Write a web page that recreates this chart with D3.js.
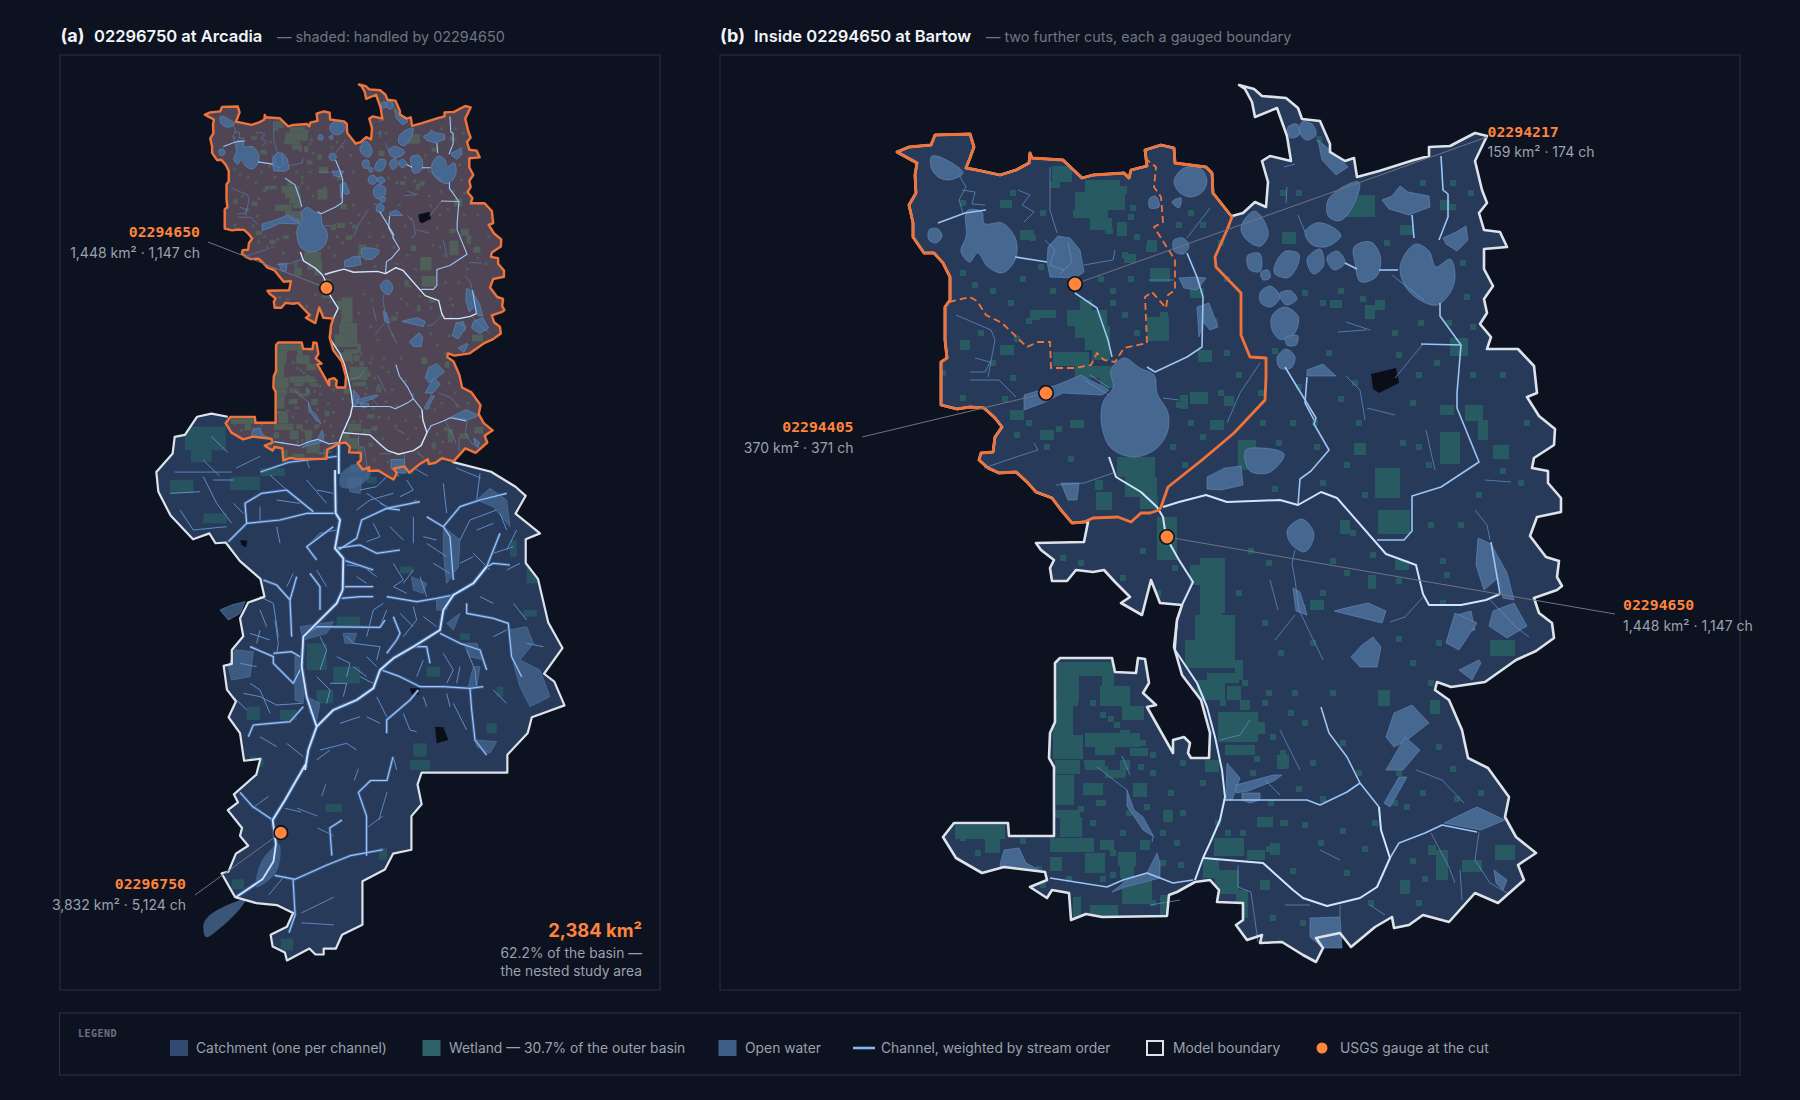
<!DOCTYPE html>
<html>
<head>
<meta charset="utf-8">
<script src="https://cdn.jsdelivr.net/npm/d3@7"></script>
<style>
  html, body { margin: 0; background: #0d1220; }
  svg { display: block; }
  text { font-family: Inter, "Noto Sans", sans-serif; }
  .mono { font-family: "DejaVu Sans Mono", monospace; font-weight: 700; }
</style>
</head>
<body>
<svg id="chart" width="1800" height="1100"></svg>
<script>
// Everything below is read off the picture. Upper basin arrays are in the
// "fine" map grid, lower basin arrays in the "coarse" and "net" grids.

// west side of the upper basin, shared by the outer boundary and the first cut
const upperWest = [[1084,522],[1072,523],[1061,510],[1052,498],[1036,492],[1027,482],[1016,472],[999,473],[988,468],[979,460],[981,453],[993,452],[995,437],[1002,427],[995,418],[984,408],[970,407],[957,409],[949,407],[941,405],[941,362],[947,358],[945,340],[945,307],[950,300],[950,277],[943,263],[934,253],[924,253],[913,237],[913,223],[909,205],[916,193],[915,175],[917,163],[906,157],[897,152],[909,147],[931,145],[935,135],[970,134],[974,147],[970,158],[966,168],[977,170],[1000,175],[1016,170],[1029,163],[1030,153],[1032,158],[1063,160],[1082,178],[1093,175],[1124,173],[1129,178],[1131,170],[1147,166],[1145,150],[1161,145],[1174,148],[1175,163],[1206,167],[1212,173],[1213,193],[1232,217]];
const upperEast = [[1232,216],[1243,213],[1255,202],[1266,207],[1268,182],[1262,161],[1270,156],[1291,161],[1287,136],[1277,108],[1255,117],[1252,102],[1245,89],[1239,85],[1254,89],[1262,96],[1286,98],[1298,108],[1302,119],[1320,121],[1330,144],[1330,152],[1345,161],[1354,158],[1357,177],[1379,171],[1414,160],[1429,156],[1429,147],[1450,146],[1475,133],[1487,136],[1475,161],[1482,190],[1487,203],[1479,213],[1484,230],[1500,232],[1507,247],[1484,249],[1484,269],[1493,286],[1484,299],[1487,313],[1480,324],[1491,337],[1487,349],[1518,349],[1534,366],[1537,393],[1527,397],[1539,416],[1555,429],[1554,445],[1534,458],[1532,468],[1548,471],[1548,483],[1561,498],[1561,512],[1537,517],[1530,536],[1546,557],[1559,561],[1557,577],[1562,586],[1557,590],[1534,598],[1539,613],[1552,623],[1554,638],[1536,651],[1516,660],[1485,682],[1451,687],[1437,682],[1435,690],[1449,700],[1462,730],[1468,758],[1488,768],[1509,797],[1505,817],[1516,837],[1536,853],[1518,865],[1524,880],[1498,903],[1475,893],[1449,922],[1423,915],[1409,925],[1394,928],[1392,917],[1375,927],[1351,947],[1340,933],[1316,938],[1323,948],[1316,962],[1303,955],[1282,942],[1260,943],[1262,935],[1247,940],[1236,925],[1243,920],[1243,903],[1217,902],[1219,890],[1210,880],[1195,882],[1177,892],[1169,895],[1167,916],[1102,917],[1086,914],[1071,920],[1069,893],[1052,890],[1047,898],[1030,887],[1047,880],[1045,872],[1004,867],[982,873],[956,858],[943,837],[954,823],[1008,823],[1009,836],[1054,836],[1054,767],[1049,758],[1050,733],[1055,722],[1055,663],[1060,658],[1112,658],[1115,672],[1136,673],[1138,658],[1145,659],[1149,683],[1143,693],[1156,705],[1147,707],[1173,753],[1173,740],[1184,737],[1190,743],[1188,753],[1191,758],[1209,758],[1210,733],[1201,700],[1182,675],[1174,647],[1177,620],[1182,605],[1160,603],[1151,580],[1142,615],[1121,603],[1130,597],[1115,582],[1104,570],[1093,572],[1076,570],[1067,581],[1052,581],[1050,568],[1054,560],[1041,550],[1036,543],[1084,542],[1086,532],[1088,522]];
const upperCut = [[1232,217],[1227,230],[1215,257],[1216,267],[1241,293],[1241,335],[1250,357],[1266,358],[1266,377],[1265,400],[1234,433],[1202,460],[1168,487],[1161,507],[1159,510],[1150,513],[1141,513],[1131,522],[1118,517],[1093,518],[1084,522]];
const dashedCut = [[949,302],[970,297],[977,301],[986,315],[1002,323],[1027,347],[1038,342],[1050,342],[1051,368],[1074,368],[1091,365],[1097,353],[1104,360],[1115,362],[1124,348],[1147,343],[1145,297],[1152,292],[1166,308],[1168,295],[1175,290],[1175,260],[1154,227],[1163,222],[1161,197],[1154,187],[1156,167],[1147,160]];

// round lakes
const lakes = [
  [[1111,370],[1124,358],[1140,368],[1154,375],[1157,393],[1168,413],[1168,430],[1157,448],[1134,457],[1111,448],[1102,427],[1104,400],[1113,388]],
  [[968,210],[982,212],[984,223],[1002,223],[1016,240],[1015,260],[1002,273],[988,267],[977,253],[970,262],[961,252],[966,237]],
  [[931,157],[952,163],[963,173],[949,180],[938,177],[931,167]],
  [[930,229],[938,229],[942,236],[936,243],[929,240]],
  [[1174,182],[1184,168],[1200,168],[1207,180],[1204,190],[1190,197],[1179,192]],
  [[1172,202],[1181,198],[1179,208]],
  [[1174,240],[1183,238],[1189,246],[1183,254],[1175,252]],
  [[1150,198],[1155,196],[1159,207],[1150,208]],
  [[1400,267],[1418,244],[1429,251],[1436,267],[1450,259],[1455,278],[1450,293],[1437,305],[1418,299],[1405,286]],
  [[1354,247],[1371,242],[1380,255],[1375,278],[1361,282],[1355,263]],
  [[1327,203],[1341,188],[1359,182],[1355,202],[1337,221],[1329,217]],
  [[1305,232],[1316,223],[1341,236],[1325,247],[1311,244]],
  [[1241,230],[1254,211],[1268,236],[1261,246],[1245,238]],
  [[1248,255],[1259,253],[1259,272],[1250,270]],
  [[1275,274],[1286,251],[1298,253],[1287,278]],
  [[1307,259],[1320,249],[1323,267],[1314,274]],
  [[1327,257],[1337,251],[1345,263],[1334,270]],
  [[1261,272],[1268,270],[1270,278],[1263,280]],
  [[1260,293],[1270,286],[1280,297],[1270,307],[1261,303]],
  [[1280,293],[1291,291],[1297,299],[1286,305]],
  [[1272,316],[1284,307],[1298,316],[1293,335],[1279,339],[1273,332]],
  [[1285,339],[1298,336],[1296,345],[1287,345]],
  [[1277,358],[1286,349],[1295,357],[1291,368],[1280,368]],
  [[1246,450],[1262,448],[1284,454],[1268,473],[1250,471]],
  [[1287,531],[1302,519],[1314,534],[1304,552],[1293,546]],
  [[1288,127],[1297,124],[1299,135],[1291,138]],
  [[1302,122],[1312,124],[1316,135],[1306,140],[1300,133]]
];
// irregular water, not smoothed
const waterPatches = [
  [[1179,278],[1195,277],[1206,278],[1197,290],[1184,288]],
  [[1048,247],[1058,236],[1070,238],[1080,250],[1084,272],[1075,278],[1050,277],[1047,262]],
  [[1197,307],[1209,303],[1218,327],[1210,330],[1203,322],[1199,337]],
  [[1024,395],[1057,385],[1081,375],[1109,390],[1102,395],[1063,393],[1043,403],[1024,410]],
  [[1061,483],[1079,483],[1077,500],[1068,500]],
  [[1382,200],[1392,196],[1400,186],[1408,192],[1429,196],[1430,207],[1409,215],[1389,209]],
  [[1307,370],[1323,364],[1336,376],[1307,376]],
  [[1443,238],[1456,232],[1466,226],[1468,240],[1457,251],[1446,244]],
  [[1318,140],[1330,150],[1348,167],[1336,175],[1322,160]],
  [[1207,477],[1225,468],[1241,466],[1243,485],[1221,490],[1207,489]],
  [[1478,538],[1491,544],[1507,573],[1514,600],[1503,598],[1498,578],[1484,590],[1476,565]],
  [[1493,611],[1514,603],[1527,626],[1507,638],[1489,626]],
  [[1457,615],[1471,611],[1475,630],[1457,634]],
  [[1334,611],[1350,607],[1368,603],[1386,611],[1382,623],[1350,615]],
  [[1293,588],[1300,592],[1307,615],[1296,611]],
  [[1351,657],[1362,645],[1373,637],[1381,647],[1377,667],[1360,667]],
  [[1386,737],[1394,713],[1412,705],[1429,723],[1407,740],[1394,747]],
  [[1386,770],[1405,737],[1420,750],[1403,770]],
  [[1384,803],[1399,777],[1407,777],[1390,807]],
  [[1444,823],[1460,815],[1477,807],[1505,820],[1481,830]],
  [[1459,670],[1479,660],[1481,663],[1472,680]],
  [[1455,613],[1477,623],[1459,650],[1446,643]],
  [[1310,918],[1340,917],[1342,948],[1323,948],[1310,937]],
  [[1000,865],[1004,850],[1019,848],[1026,863],[1043,872],[1000,867]],
  [[1112,892],[1130,878],[1147,873],[1157,853],[1160,863],[1160,878],[1125,887]],
  [[1127,790],[1134,810],[1143,817],[1154,837],[1143,830],[1127,806]],
  [[1242,793],[1260,793],[1260,800],[1250,803],[1242,800]],
  [[1227,763],[1240,778],[1232,800],[1226,800]],
  [[1494,870],[1507,880],[1503,890],[1496,883]],
  [[1236,785],[1273,775],[1282,775],[1274,781],[1248,791],[1236,793]]
];
const darkPatches = [[[1371,374],[1396,368],[1399,383],[1379,393],[1373,389]]];

const channelsMajor = [
  [[1109,457],[1116,477],[1141,492],[1157,507],[1163,517],[1166,537],[1179,560],[1193,582],[1182,605],[1177,620],[1175,650],[1197,683],[1207,707],[1215,737],[1222,770],[1225,797],[1220,820],[1210,843],[1203,858],[1195,880]],
  [[1163,507],[1179,502],[1206,495],[1227,502],[1280,500],[1298,505],[1321,492],[1337,498],[1386,554],[1416,565],[1423,594],[1429,605],[1461,605],[1486,600],[1500,594]],
  [[1203,858],[1263,863],[1293,890],[1303,898],[1327,906],[1360,898],[1377,887],[1390,858],[1381,830],[1379,807]]
];
const channelsMid = [
  [[1377,540],[1404,540],[1412,531],[1412,496],[1441,487],[1479,462],[1457,408],[1457,393],[1461,345],[1440,316],[1440,303]],
  [[1298,505],[1300,479],[1311,471],[1329,450],[1314,424],[1316,418],[1285,367]],
  [[1075,293],[1097,308],[1108,340],[1112,357]],
  [[1147,367],[1155,372],[1187,357],[1202,347],[1203,297],[1197,277],[1187,253]],
  [[1390,858],[1399,843],[1425,833],[1442,825],[1477,832]],
  [[1379,807],[1360,783],[1347,757],[1329,733],[1321,707]],
  [[1225,800],[1247,800],[1307,800],[1320,805],[1347,792],[1360,783]],
  [[1050,878],[1107,887],[1123,880],[1147,873],[1173,883],[1193,880]],
  [[1500,594],[1491,542]],
  [[1441,156],[1443,190],[1448,194],[1448,217],[1439,240]],
  [[1015,257],[1047,262]],
  [[938,223],[965,213],[986,210]],
  [[1307,377],[1305,403],[1314,420]],
  [[1379,270],[1398,270]],
  [[1345,263],[1357,269]],
  [[1421,344],[1461,345]],
  [[1412,215],[1414,238]]
];
const channelsMinor = [
  [[1050,167],[1050,210],[1057,233]],
  [[959,175],[966,187],[959,200],[963,213]],
  [[1084,265],[1113,260],[1115,250]],
  [[1210,208],[1187,238]],
  [[956,315],[991,330],[995,340],[988,377]],
  [[970,380],[999,380],[1016,397]],
  [[1084,380],[1109,395]],
  [[1090,375],[1110,388]],
  [[984,468],[1016,457],[1038,450],[1034,443]],
  [[1056,485],[1084,483],[1113,473]],
  [[1260,363],[1240,393],[1227,423]],
  [[1149,280],[1174,280]],
  [[1163,398],[1179,400]],
  [[1097,767],[1127,790]],
  [[1153,837],[1152,842]],
  [[1238,865],[1238,887],[1251,892],[1258,942]],
  [[1340,905],[1340,917]],
  [[1431,833],[1449,867],[1455,883]],
  [[1479,832],[1475,860],[1490,883],[1507,893]],
  [[1423,597],[1405,617],[1390,622]],
  [[1490,600],[1516,627],[1529,637]],
  [[1295,550],[1292,563],[1295,580],[1299,610],[1323,660]],
  [[1416,770],[1442,780],[1464,803]],
  [[1287,187],[1286,203]],
  [[1284,167],[1295,164]],
  [[1298,215],[1305,232]],
  [[1346,322],[1370,330]],
  [[1338,332],[1366,330]],
  [[1395,378],[1423,344]],
  [[1346,376],[1360,390],[1365,420]],
  [[1367,408],[1395,415]],
  [[1424,300],[1392,275]],
  [[1426,430],[1435,470]],
  [[1485,480],[1511,482]],
  [[1475,510],[1487,525],[1490,540]],
  [[1270,580],[1278,610]],
  [[1275,640],[1295,615]],
  [[962,190],[975,192],[972,204],[985,205]],
  [[1018,190],[1030,195],[1022,205],[1034,212],[1024,222]],
  [[1045,240],[1055,250],[1050,265],[1064,270]],
  [[1068,243],[1072,262],[1060,274]],
  [[975,358],[990,362],[985,372],[970,372]],
  [[1220,740],[1240,735],[1250,720]],
  [[1265,780],[1280,795]],
  [[1130,775],[1122,756]],
  [[1180,900],[1150,905]],
  [[1285,905],[1310,905]],
  [[1370,905],[1385,915]],
  [[1460,870],[1462,900]],
  [[1320,850],[1340,860]],
  [[1280,730],[1300,770]]
];
// wetland blocks: x, y, w, h
const wetlandBlocks = [[1052,166,20,16],[1085,180,35,12],[1075,192,50,18],[1073,210,35,8],[1090,218,22,12],[1105,228,8,6],[1119,186,8,8],[1130,205,6,6],[1050,182,10,6],[1080,300,12,10],[1067,310,40,16],[1075,326,35,12],[1085,338,25,12],[1092,350,18,10],[1053,352,36,14],[1075,366,40,12],[1100,378,15,10],[1147,317,22,24],[1160,312,8,6],[1150,268,20,14],[1124,254,12,9],[1147,240,10,12],[1117,222,10,14],[1190,288,14,10],[1198,350,14,12],[1190,392,18,12],[1224,396,10,10],[1282,232,14,12],[1040,310,16,8],
  [1117,457,38,20],[1125,477,32,20],[1140,497,18,12],[1096,492,16,18],[1157,517,20,43],[1238,440,18,30],[1190,565,20,20],[1200,585,22,30],[1195,615,40,25],
  [1057,662,45,14],[1057,676,22,24],[1100,686,30,20],[1102,662,12,24],[1122,706,22,14],[1053,700,20,35],[1053,735,30,24],[1055,760,25,14],[1085,733,55,14],[1095,747,20,8],[1130,748,18,8],[1120,730,10,14],[1085,760,20,10],[1120,760,10,10],[1105,770,20,8],[1056,775,18,30],[1083,783,20,12],[1133,783,14,14],[1060,817,22,20],[1050,810,30,8],[1050,838,44,14],[1085,853,20,20],[1118,852,18,14],[1050,857,12,14],[1100,840,14,10],[1140,840,10,10],[1120,866,14,12],[1122,878,30,26],[1090,905,28,12],[1160,895,10,20],[1073,897,8,20],[1163,810,10,12],
  [1185,640,50,28],[1207,673,32,10],[1197,680,28,20],[1218,712,40,30],[1255,722,10,12],[1227,686,14,14],[1235,660,8,20],[1240,700,10,10],[1225,745,30,10],[1190,690,12,10],[1205,760,14,12],[1215,870,24,24],[1260,880,10,10],[1247,850,18,10],[1257,817,16,10],[1280,820,8,6],[1214,838,30,18],[1270,843,10,12],[1277,755,12,14],[1203,860,16,18],[1236,890,12,28],
  [955,825,50,14],[985,838,15,15],[1378,690,12,16],[1490,640,25,16],[1368,575,8,14],[1436,850,12,30],[1495,845,20,15],[1375,468,25,30],[1378,510,32,24],[1440,432,20,32],[1354,443,12,12],[1200,558,25,55],[1207,634,28,26],[1345,195,30,22],[1465,405,18,16],[1493,445,16,14],[1365,305,10,14],[1450,338,18,18],
  [1440,405,14,10],[1478,420,10,20],[1395,560,14,10],[1340,520,10,14],[1310,600,14,10],[1430,700,10,14],[1400,880,10,14],[1462,860,20,12],[1428,845,8,10],[1400,225,14,10],[1440,200,10,10],[1375,300,10,10],[1330,300,12,8],[1000,200,12,8],[1020,230,14,10],[1030,310,10,10],[1000,345,14,10],[960,340,10,10],[1010,410,14,10],[1040,430,14,10],[1070,420,14,8],[1095,480,8,10],[1180,395,8,14],[1210,420,14,10]];
// single wetland cells on a 6 unit step
const wetlandCells = [[960,270],[972,282],[990,288],[1008,300],[1020,276],[1038,264],[1050,288],[1026,318],[1002,252],[978,330],[1014,336],[1122,252],[1134,234],[1146,246],[1128,276],[1110,288],[1122,312],[1134,330],[1110,300],[1098,276],[1176,222],[1188,210],[1200,222],[1218,240],[1224,276],[1212,318],[1224,350],[1236,372],[1218,390],[1176,402],[1188,420],[1200,434],[1170,444],[1182,462],[1044,444],[1056,426],[1068,456],[1014,432],[1026,420],[1002,396],[990,420],[1254,264],[1272,348],[1296,384],[1320,300],[1338,288],[1362,264],[1392,330],[1416,372],[1434,360],[1470,372],[1464,294],[1470,324],[1356,420],[1338,396],[1314,444],[1290,420],[1272,486],[1260,420],[1344,462],[1320,480],[1362,492],[1416,444],[1428,522],[1458,522],[1476,492],[1500,468],[1518,480],[1500,372],[1524,420],[1440,558],[1350,530],[1330,558],[1370,552],[1396,578],[1444,572],[1248,548],[1266,560],[1236,590],[1262,620],[1278,650],[1310,640],[1330,690],[1292,690],[1302,720],[1266,690],[1242,680],[1254,756],[1280,750],[1310,760],[1340,828],[1362,846],[1318,840],[1290,868],[1302,822],[1266,846],[1344,870],[1368,900],[1410,858],[1422,876],[1404,804],[1436,744],[1450,766],[1478,790],[1470,710],[1454,796],[1416,900],[1300,920],[1270,915],[1180,760],[1168,790],[1150,770],[1180,810],[1160,860],[1120,830],[1100,800],[1090,820],[1110,850],[1036,866],[1020,838],[975,850],[960,835],[1075,900],[1150,900],[1130,660],[1090,700],[1100,712],[1140,740],[1200,780],[1215,820],[1172,565],[1155,590],[1120,575],[1100,590],[1078,560],[1060,555],[1140,548],[960,200],[1010,190],[1040,210],[1030,235],[1128,214],[940,370],[960,395],[990,360],[1010,375],
  [1060,700],[1072,700],[1108,716],[1114,722],[1060,780],[1084,760],[1102,766],[1120,770],[1138,764],[1150,752],[1096,800],[1078,806],[1126,810],[1144,804],[1084,838],[1066,876],[1040,882],[1100,876],[1110,872],[1160,830],[1174,840],[1178,862],[1225,830],[1240,830],[1220,700],[1240,700],[1244,746],[1262,700],[1270,734],[1288,710],[1250,770],[1268,800],[1296,786],[1320,796],[1372,820],[1392,800],[1396,770],[1420,790],[1356,770],[1340,740],[1300,604],[1320,590],[1344,570],[1410,660],[1428,680],[1396,636],[1436,640],[1440,600],[1378,380],[1410,400],[1400,440],[1426,462],[1386,490],[1352,380],[1312,420],[1276,440],[1258,390],[1420,180],[1450,180],[1468,190],[1446,320],[1418,320],[1396,352],[1326,350],[1302,290],[1360,296],[1384,240],[1460,260],[1450,204],[1316,136],[1272,120],[1280,190],[1258,178],[1296,190]];

// lower basin, coarse grid
const lowerOutline = [[1010,-46],[1105,-21],[1165,17],[1190,40],[1165,85],[1225,135],[1190,150],[1190,210],[1220,250],[1245,360],[1280,425],[1235,490],[1260,510],[1285,570],[1205,600],[1195,640],[1145,695],[1145,740],[935,740],[925,770],[935,820],[910,850],[910,935],[865,945],[845,985],[790,1015],[790,1125],[740,1150],[725,1185],[695,1185],[695,1200],[675,1200],[660,1185],[605,1215],[600,1195],[570,1180],[565,1150],[605,1130],[620,1095],[580,1075],[530,1070],[478,1055],[445,995],[462,990],[480,945],[510,925],[490,900],[495,880],[460,835],[485,815],[475,795],[530,745],[540,705],[500,710],[490,640],[462,600],[480,560],[458,530],[450,470],[470,465],[470,430],[498,395],[490,350],[510,310],[550,295],[540,250],[490,205],[455,158],[430,160],[415,135],[375,150],[320,90],[290,30],[285,-20],[325,-67],[330,-109],[355,-114],[385,-160],[420,-168],[460,-160]];
const lowerMajor = [
  [[732,-90],[732,-15]],
  [[650,720],[622,770],[600,810],[570,860],[578,920],[572,965],[545,1010],[480,1055]]
];
const lowerMid = [
  [[570,860],[520,825],[490,790]],
  [[575,1000],[625,1010],[700,975],[760,950],[840,935]],
  [[620,1010],[625,1100],[610,1145]],
  [[715,950],[710,880],[740,860]],
  [[800,950],[800,850],[780,790],[810,760],[850,760],[865,700]],
  [[730,-60],[610,-45],[540,-20]]
];
const lowerTwigs = [
  [[640,1095],[720,1055]],[[640,1120],[720,1125]],[[700,770],[690,800]],[[560,1050],[600,1000]],[[640,840],[600,830]],[[780,730],[770,760]],[[680,880],[720,900]],[[840,850],[800,880]],[[850,790],[830,860]],
  [[480,-30],[540,-60]],[[400,-50],[440,-10]],[[330,-20],[470,-20]],[[640,-90],[660,-30]],[[820,-30],[880,-10]],[[900,-40],[950,-10]],[[1020,-30],[1080,-5]],[[420,-110],[460,-70]],[[520,830],[560,800]],[[630,830],[680,850]]
];
const lowerWater = [
  [[400,1130],[470,1070],[500,1060],[445,1130],[405,1155]],
  [[545,960],[585,920],[580,990],[530,1030]],
  [[735,-10],[790,-40],[810,-20],[770,20],[735,15]]
];
const lowerWetland = [[355,-135,100,60],[370,-75,50,30],[470,1010,30,25],[590,1160,30,30],[830,930,20,30],[540,-30,60,20],[700,820,40,20],[760,-40,30,20],[890,-30,25,15]];

// the dense part of the network, net grid
const netMajor = [
  [[525,0],[527,130],[540,150],[525,235],[550,265],[548,360],[530,400],[490,440],[430,500],[425,590],[440,680],[470,770],[445,840],[435,900]],
  [[470,770],[520,720],[590,690],[640,655],[660,600],[700,565],[760,530],[840,480],[850,420],[880,375],[940,340],[980,290]]
];
const netMid = [
  [[525,130],[440,130],[360,150],[260,160],[225,195],[205,215]],
  [[535,240],[590,205],[605,150],[680,115],[720,120]],
  [[680,115],[780,95]],
  [[525,235],[600,225],[650,250],[720,240]],
  [[980,290],[1000,280],[1050,285]],
  [[980,290],[1020,190]],
  [[880,330],[870,200],[850,170],[900,110],[960,90],[1040,70]],
  [[850,170],[800,140]],
  [[665,600],[720,620],[780,650],[850,650],[930,655],[935,720],[945,810],[980,855]],
  [[930,655],[970,650]],
  [[920,400],[920,430],[1000,445],[1045,460],[1055,560],[1085,620]],
  [[425,590],[400,640],[340,580],[340,560],[270,530]],
  [[420,560],[395,545],[340,550]],
  [[430,500],[470,470],[660,472],[675,450]],
  [[395,500],[390,390],[350,345],[310,330]],
  [[390,390],[410,320]],
  [[430,710],[390,755],[280,765],[265,800]],
  [[480,420],[480,350],[450,310]],
  [[470,270],[440,230],[520,170]],
  [[550,270],[640,300]],
  [[550,350],[640,350]],
  [[545,385],[600,380],[640,380]],
  [[680,380],[770,395],[830,385],[880,375]],
  [[680,550],[710,510],[720,490],[700,440]],
  [[760,530],[800,530],[810,580]],
  [[680,790],[680,750],[750,690],[775,660]],
  [[840,490],[900,520],[960,540],[980,600]],
  [[260,160],[255,100],[305,70],[380,60],[460,125]]
];
const netTwigs = [
  [[560,285],[610,290],[650,320]],[[700,350],[740,370]],[[780,320],[800,380]],[[730,730],[750,780],[770,785]],[[650,680],[680,740]],[[620,500],[640,420],[670,400]],[[560,500],[580,520],[660,530],[650,570]],[[730,500],[770,450],[760,410]],[[920,540],[945,600],[950,650]],[[480,500],[500,540],[480,600]],[[510,640],[560,640]],[[560,640],[550,680]],[[600,620],[640,640]],[[355,500],[340,400],[300,380]],[[345,450],[355,520],[350,550]],[[300,480],[290,520]],[[300,660],[330,730]],[[250,670],[300,680],[350,705],[425,700]],[[130,20],[170,100],[215,160]],[[330,15],[380,60]],[[30,70],[120,65]],[[100,180],[200,170]],[[300,110],[300,160]],[[350,170],[360,220]],[[660,100],[690,115]],[[750,100],[770,90]],[[620,70],[680,110]],[[760,140],[760,220]],[[850,40],[860,130]],[[960,10],[950,90]],[[1020,130],[1040,180]],[[900,210],[930,150],[1010,120]],[[800,220],[860,260]],[[820,280],[870,310]],[[940,250],[990,300]],[[1040,300],[1080,280]],[[590,120],[630,90],[700,70]],[[440,230],[480,190],[530,180]],[[470,300],[500,350]],[[400,310],[380,350]],
  [[600,60],[650,50],[680,20]],[[740,30],[760,60],[720,80]],[[690,170],[730,210]],[[640,160],[660,200],[620,215]],[[700,280],[730,330],[700,350]],[[590,320],[620,340]],[[760,300],[730,340]],[[680,420],[660,470]],[[720,430],[760,470]],[[790,440],[830,470]],[[530,560],[570,580],[560,620]],[[470,620],[510,660],[500,700]],[[270,640],[300,660]],[[220,680],[260,720]],[[240,580],[290,590]],[[300,420],[320,470]],[[270,490],[330,510]],[[220,100],[250,130]],[[60,120],[100,180]],[[160,30],[220,30]],[[440,30],[500,100]],[[350,90],[420,100]],[[470,60],[520,70]],[[580,590],[620,620]],[[620,560],[650,590]],[[790,570],[770,620]],[[850,550],[880,600],[860,640]],[[900,590],[890,640]],[[1000,500],[1040,480]],[[1060,400],[1100,450]],[[960,380],[1000,400]],[[1100,520],[1150,530]],[[1000,660],[1040,700]],[[880,700],[920,780]],[[790,680],[800,710]],[[860,670],[870,710]],[[620,740],[660,760]],[[540,760],[600,740]],[[480,840],[560,820],[590,840]],[[510,840],[470,870]],[[700,860],[710,900]],[[380,820],[430,860]],[[300,800],[350,830]],[[1000,250],[1060,230]],[[1070,180],[1040,240]],[[790,200],[830,210]],[[950,180],[1000,160]],[[900,280],[940,260]]
];
const netWater = [
  [[1050,480],[1100,470],[1120,520],[1080,570],[1140,600],[1170,680],[1110,710],[1080,650],[1060,580]],
  [[225,540],[280,545],[270,620],[215,630],[205,590]],
  [[180,420],[215,405],[255,395],[240,430],[205,450]],
  [[950,90],[990,55],[1040,90],[1050,170],[1000,110]],
  [[850,170],[900,210],[895,290],[860,340],[850,250]],
  [[405,560],[430,560],[430,700],[405,690]],
  [[560,25],[605,25],[600,70],[570,65]],
  [[420,470],[520,455],[500,490],[430,510]],
  [[940,590],[960,590],[950,650],[925,650]],
  [[945,810],[1010,815],[990,850],[950,830]],
  [[830,390],[870,380],[860,420],[830,420]],
  [[910,520],[950,520],[970,570],[930,560]],
  [[860,460],[900,430],[880,480]],
  [[440,680],[480,700],[470,750],[450,730]],
  [[755,320],[800,340],[790,370],[760,360]],
  [[550,490],[590,490],[580,520],[555,520]]
];
const netHoles = [
  [[750,655],[780,655],[775,675],[755,672]],
  [[825,770],[850,772],[865,810],[830,820]],
  [[240,210],[262,212],[258,232],[245,225]]
];
const netWetland = [[210,20,90,40],[440,520,60,80],[520,590,80,50],[470,660,50,40],[360,720,50,30],[1050,210,20,50],[760,820,40,40],[980,760,30,30],[1100,280,50,60],[1180,560,20,20],[1010,650,20,30],[530,440,70,30],[900,490,30,20],[800,590,40,30],[260,710,40,40],[720,290,40,20],[130,130,70,30],[30,30,70,40],[620,20,30,20],[1090,420,40,20],[750,870,60,30],[270,860,40,30]];

// gauges and their labels
const gaugeIds = ["02294650", "02294217", "02294405", "02296750"];
const gaugeArea = ["1,448 km² · 1,147 ch", "159 km² · 174 ch", "370 km² · 371 ch", "3,832 km² · 5,124 ch"];
const gaugeFine = [[1167,537],[1075,284],[1046,393]];
const gaugeCoarse = [[590,892]];
const legendItems = ["Catchment (one per channel)", "Wetland — 30.7% of the outer basin", "Open water", "Channel, weighted by stream order", "Model boundary", "USGS gauge at the cut"];

const C = {
  bg: "#0d1220", frame: "#2a3141", catchment: "#273a5a", wetland: "#285a62", water: "#46678f", waterEdge: "#6b90c4",
  hole: "#0b0e18", orange: "#f0743a", gauge: "#ff843c", white: "#dde3ea", chan1: "#cfe5ff", chan2: "#9cc4f5", chan3: "#5f8cc8",
  halo: "#3f6295", leader: "#6d7482", grey: "#9aa1ad", dim: "#6f7683"
};

const svg = d3.select("#chart");
const defs = svg.append("defs");

// panel rectangles
svg.append("rect").attr("x", 60).attr("y", 55).attr("width", 600).attr("height", 935).attr("fill", "none").attr("stroke", C.frame);
svg.append("rect").attr("x", 720).attr("y", 55).attr("width", 1020).attr("height", 935).attr("fill", "none").attr("stroke", C.frame);
svg.append("rect").attr("x", 59.5).attr("y", 1013).attr("width", 1680.5).attr("height", 62).attr("fill", "none").attr("stroke", C.frame);

// scales, fine grid is the map at panel (b) zoom, (a) is the same map 2.22 times smaller
const xB = d3.scaleLinear().domain([720, 1740]).range([720, 1740]);
const yB = d3.scaleLinear().domain([55, 990]).range([55, 990]);
const xA = d3.scaleLinear().domain([1167, 1167 + 222]).range([326.5, 426.5]);
const yA = d3.scaleLinear().domain([537, 537 + 222]).range([288, 388]);
const xL = d3.scaleLinear().domain([0, 1568]).range([40, 680]);
const yL = d3.scaleLinear().domain([0, 1568]).range([480, 1100]);
const xN = d3.scaleLinear().domain([0, 1200]).range([160, 560]);
const yN = d3.scaleLinear().domain([0, 900]).range([470, 770]);

const upperOuter = upperWest.concat(upperEast);
const upperFirstCut = upperWest.concat(upperCut);

function drawUpper(g, x, y, id, k, shaded) {
  const line = d3.line().x(d => x(d[0])).y(d => y(d[1]));
  const closed = d3.line().x(d => x(d[0])).y(d => y(d[1])).curve(d3.curveLinearClosed);
  const blob = d3.line().x(d => x(d[0])).y(d => y(d[1])).curve(d3.curveCatmullRomClosed.alpha(1));

  defs.append("clipPath").attr("id", id).append("path").attr("d", closed(upperOuter));
  g.append("path").attr("d", closed(upperOuter)).attr("fill", C.catchment);

  const clip = g.append("g").attr("clip-path", `url(#${id})`);
  clip.selectAll(".wb").data(wetlandBlocks).join("rect")
    .attr("x", d => x(d[0])).attr("y", d => y(d[1]))
    .attr("width", d => x(d[0] + d[2]) - x(d[0])).attr("height", d => y(d[1] + d[3]) - y(d[1]))
    .attr("fill", C.wetland);
  clip.selectAll(".wc").data(wetlandCells).join("rect")
    .attr("x", d => x(d[0])).attr("y", d => y(d[1]))
    .attr("width", x(6) - x(0)).attr("height", y(6) - y(0))
    .attr("fill", C.wetland);

  if (shaded) {
    g.append("path").attr("d", closed(upperOuter)).attr("fill", C.orange).attr("fill-opacity", 0.2);
  }

  g.selectAll(".lake").data(lakes).join("path")
    .attr("d", blob).attr("fill", C.water).attr("stroke", C.waterEdge).attr("stroke-width", 0.8).attr("stroke-opacity", 0.7);
  g.selectAll(".patch").data(waterPatches).join("path")
    .attr("d", closed).attr("fill", C.water).attr("stroke", C.waterEdge).attr("stroke-width", 0.8).attr("stroke-opacity", 0.7).attr("stroke-linejoin", "round");
  g.selectAll(".dark").data(darkPatches).join("path").attr("d", closed).attr("fill", C.hole);

  g.selectAll(".c3").data(channelsMinor).join("path")
    .attr("d", line).attr("fill", "none").attr("stroke", C.chan3).attr("stroke-opacity", 0.75).attr("stroke-width", 1 * k).attr("stroke-linejoin", "round");
  g.selectAll(".c2").data(channelsMid).join("path")
    .attr("d", line).attr("fill", "none").attr("stroke", C.chan2).attr("stroke-width", 1.6 * k).attr("stroke-linejoin", "round");
  g.selectAll(".c1").data(channelsMajor).join("path")
    .attr("d", line).attr("fill", "none").attr("stroke", C.chan1).attr("stroke-width", 2 * k).attr("stroke-linejoin", "round");
  return { line, closed };
}

// panel (a), lower basin first, the upper basin sits on top of it
const gA = svg.append("g");
const lineL = d3.line().x(d => xL(d[0])).y(d => yL(d[1]));
const closedL = d3.line().x(d => xL(d[0])).y(d => yL(d[1])).curve(d3.curveLinearClosed);
const blobL = d3.line().x(d => xL(d[0])).y(d => yL(d[1])).curve(d3.curveCatmullRomClosed.alpha(1));
const lineN = d3.line().x(d => xN(d[0])).y(d => yN(d[1]));
const closedN = d3.line().x(d => xN(d[0])).y(d => yN(d[1])).curve(d3.curveLinearClosed);

gA.append("path").attr("d", closedL(lowerOutline)).attr("fill", C.catchment);
defs.append("clipPath").attr("id", "clipL").append("path").attr("d", closedL(lowerOutline));
const clipL = gA.append("g").attr("clip-path", "url(#clipL)");
clipL.selectAll(".lwet").data(lowerWetland).join("rect")
  .attr("x", d => xL(d[0])).attr("y", d => yL(d[1]))
  .attr("width", d => xL(d[2]) - xL(0)).attr("height", d => yL(d[3]) - yL(0))
  .attr("fill", C.wetland).attr("fill-opacity", 0.8);
clipL.selectAll(".nwet").data(netWetland).join("rect")
  .attr("x", d => xN(d[0])).attr("y", d => yN(d[1]))
  .attr("width", d => xN(d[2]) - xN(0)).attr("height", d => yN(d[3]) - yN(0))
  .attr("fill", C.wetland).attr("fill-opacity", 0.8);

gA.selectAll(".lw").data(lowerWater).join("path").attr("d", blobL).attr("fill", C.water).attr("fill-opacity", 0.8);
gA.selectAll(".nw").data(netWater).join("path").attr("d", closedN).attr("fill", C.water).attr("fill-opacity", 0.75).attr("stroke", C.water).attr("stroke-width", 1).attr("stroke-linejoin", "round");
gA.selectAll(".nh").data(netHoles).join("path").attr("d", closedN).attr("fill", C.hole);

function strokeSet(sel, cls, data, gen, color, width) {
  sel.selectAll("." + cls).data(data).join("path").attr("class", cls)
    .attr("d", gen).attr("fill", "none").attr("stroke", color).attr("stroke-width", width).attr("stroke-linejoin", "round");
}
strokeSet(gA, "ltw", lowerTwigs, lineL, C.chan3, 0.9);
strokeSet(gA, "ntw", netTwigs, lineN, C.chan3, 1);
strokeSet(gA, "lmh", lowerMid, lineL, C.halo, 3);
strokeSet(gA, "nmh", netMid, lineN, C.halo, 3);
strokeSet(gA, "lm", lowerMid, lineL, C.chan2, 1.1);
strokeSet(gA, "nm", netMid, lineN, C.chan2, 1.2);
strokeSet(gA, "lMh", lowerMajor, lineL, C.halo, 4.2);
strokeSet(gA, "nMh", netMajor, lineN, C.halo, 4.2);
strokeSet(gA, "lM", lowerMajor, lineL, C.chan1, 1.8);
strokeSet(gA, "nM", netMajor, lineN, C.chan1, 1.8);
gA.append("path").attr("d", lineL(lowerOutline)).attr("fill", "none").attr("stroke", C.white).attr("stroke-width", 2.2).attr("stroke-linejoin", "round");

const upA = drawUpper(gA, xA, yA, "clipA", 0.7, true);
gA.append("path").attr("d", upA.closed(upperOuter)).attr("fill", "none").attr("stroke", C.orange).attr("stroke-width", 2.4).attr("stroke-linejoin", "round");

// panel (b)
const gB = svg.append("g");
const upB = drawUpper(gB, xB, yB, "clipB", 1, false);
gB.append("path").attr("d", upB.closed(upperOuter)).attr("fill", "none").attr("stroke", C.white).attr("stroke-width", 2.6).attr("stroke-linejoin", "round");
gB.append("path").attr("d", upB.line(dashedCut)).attr("fill", "none").attr("stroke", C.orange).attr("stroke-width", 1.8).attr("stroke-dasharray", "7 4");
gB.append("path").attr("d", upB.closed(upperFirstCut)).attr("fill", "none").attr("stroke", C.orange).attr("stroke-width", 2.8).attr("stroke-linejoin", "round");

// leaders, gauges, labels
function leader(x1, y1, x2, y2) {
  svg.append("line").attr("x1", x1).attr("y1", y1).attr("x2", x2).attr("y2", y2)
    .attr("stroke", C.leader).attr("stroke-width", 1);
}
function gauge(cx, cy, r) {
  svg.append("circle").attr("cx", cx).attr("cy", cy).attr("r", r).attr("fill", C.gauge).attr("stroke", C.bg).attr("stroke-width", 1.6);
}
function label(x, y, anchor, i) {
  svg.append("text").attr("class", "mono").attr("x", x).attr("y", y).attr("text-anchor", anchor)
    .attr("font-size", 14.8).attr("fill", C.gauge).text(gaugeIds[i]);
  svg.append("text").attr("x", x).attr("y", y + 20.5).attr("text-anchor", anchor)
    .attr("font-size", 14).attr("fill", C.grey).text(gaugeArea[i]);
}

const gA1 = [xA(gaugeFine[0][0]), yA(gaugeFine[0][1])];
const gA2 = [xL(gaugeCoarse[0][0]), yL(gaugeCoarse[0][1])];
const gB1 = [xB(gaugeFine[0][0]), yB(gaugeFine[0][1])];
const gB2 = [xB(gaugeFine[1][0]), yB(gaugeFine[1][1])];
const gB3 = [xB(gaugeFine[2][0]), yB(gaugeFine[2][1])];

leader(208, 242, gA1[0], gA1[1]);
leader(195, 895, gA2[0], gA2[1]);
leader(1487, 137, gB2[0], gB2[1]);
leader(862, 437, gB3[0], gB3[1]);
leader(1615, 614, gB1[0], gB1[1]);
gauge(gA1[0], gA1[1], 6.8);
gauge(gA2[0], gA2[1], 6.8);
gauge(gB1[0], gB1[1], 7.2);
gauge(gB2[0], gB2[1], 7.2);
gauge(gB3[0], gB3[1], 7.2);

label(200, 237, "end", 0);
label(186, 889, "end", 3);
label(1487.5, 136.5, "start", 1);
label(853.5, 432, "end", 2);
label(1623, 610, "start", 0);

// titles
function title(x1, x2, x3, tag, main, sub) {
  svg.append("text").attr("x", x1).attr("y", 42).attr("font-size", 18).attr("font-weight", 700).attr("fill", "#f2f4f7").text(tag);
  svg.append("text").attr("x", x2).attr("y", 42).attr("font-size", 16.5).attr("font-weight", 600).attr("fill", "#f2f4f7").text(main);
  svg.append("text").attr("x", x3).attr("y", 42).attr("font-size", 14.4).attr("fill", C.dim).text(sub);
}
title(60.5, 94, 277, "(a)", "02296750 at Arcadia", "— shaded: handled by 02294650");
title(720, 754, 986, "(b)", "Inside 02294650 at Bartow", "— two further cuts, each a gauged boundary");

// callout
svg.append("text").attr("x", 642).attr("y", 937).attr("text-anchor", "end").attr("font-size", 18.4).attr("font-weight", 700).attr("fill", C.gauge).text("2,384 km²");
svg.append("text").attr("x", 642).attr("y", 958).attr("text-anchor", "end").attr("font-size", 13.8).attr("fill", C.grey).text("62.2% of the basin —");
svg.append("text").attr("x", 642).attr("y", 976).attr("text-anchor", "end").attr("font-size", 13.8).attr("fill", C.grey).text("the nested study area");

// legend
svg.append("text").attr("class", "mono").attr("x", 78).attr("y", 1037).attr("font-size", 10).attr("letter-spacing", 0.5).attr("fill", "#6a7180").text("LEGEND");
const legendText = [196, 449, 745, 881, 1173, 1340];
legendText.forEach((x, i) => {
  svg.append("text").attr("x", x).attr("y", 1053).attr("font-size", 13.85).attr("fill", C.grey).text(legendItems[i]);
});
svg.append("rect").attr("x", 170).attr("y", 1040).attr("width", 18).attr("height", 16).attr("fill", "#324a72");
svg.append("rect").attr("x", 422.5).attr("y", 1040).attr("width", 18).attr("height", 16).attr("fill", "#2e6068");
svg.append("rect").attr("x", 718.5).attr("y", 1040).attr("width", 18).attr("height", 16).attr("fill", "#3e5e8a");
svg.append("line").attr("x1", 853).attr("y1", 1048).attr("x2", 875).attr("y2", 1048).attr("stroke", "#85b4ea").attr("stroke-width", 2.6);
svg.append("rect").attr("x", 1147).attr("y", 1041).attr("width", 16).attr("height", 14).attr("fill", "none").attr("stroke", C.white).attr("stroke-width", 2);
svg.append("circle").attr("cx", 1322).attr("cy", 1048).attr("r", 5.5).attr("fill", C.gauge);
</script>
</body>
</html>
